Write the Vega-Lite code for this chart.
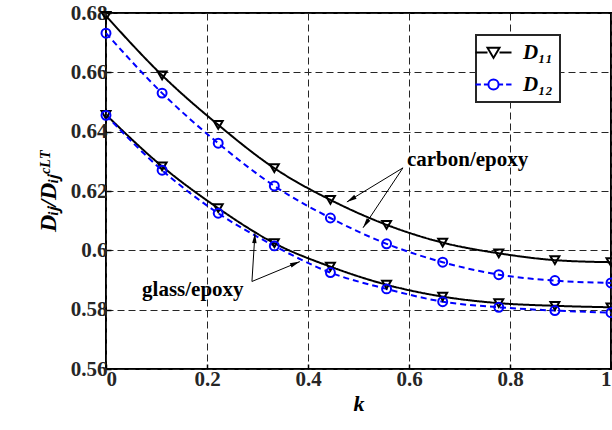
{
  "$schema": "https://vega.github.io/schema/vega-lite/v6.json",
  "autosize": {"type": "none"},
  "padding": {"left": 106, "top": 13, "right": 1, "bottom": 61},
  "width": 505,
  "height": 356,
  "background": "white",
  "config": {
    "view": {"stroke": "#000", "strokeWidth": 2},
    "axis": {
      "labelFont": "Times New Roman",
      "labelFontWeight": "bold",
      "labelFontSize": 21,
      "labelColor": "#262626",
      "titleFont": "Times New Roman",
      "titleFontWeight": "bold",
      "titleFontStyle": "italic",
      "titleColor": "#000",
      "grid": true,
      "gridDash": [7, 4],
      "gridColor": "#262626",
      "gridOpacity": 1,
      "gridWidth": 1,
      "domain": false,
      "ticks": true,
      "tickSize": -5,
      "tickColor": "#000",
      "tickWidth": 1.5,
      "labelPadding": 4
    },
    "axisX": {"titleFontSize": 22, "titlePadding": 4},
    "axisY": {"titleFontSize": 24, "titlePadding": 10},
    "legend": {
      "orient": "none",
      "legendX": 370,
      "legendY": 22,
      "strokeColor": "#262626",
      "strokeWidth": 2,
      "fillColor": "white",
      "padding": 7,
      "symbolSize": 144,
      "symbolStrokeWidth": 2,
      "labelFont": "Times New Roman",
      "labelFontSize": 21,
      "labelFontWeight": "bold",
      "labelFontStyle": "italic",
      "labelColor": "#000",
      "labelOffset": 19,
      "rowPadding": 10
    }
  },
  "datasets": {
    "curves": [
      {"k": 0, "v": 0.679, "series": "D₁₁", "mat": "carbon"},
      {"k": 0.1111, "v": 0.659, "series": "D₁₁", "mat": "carbon"},
      {"k": 0.2222, "v": 0.6423, "series": "D₁₁", "mat": "carbon"},
      {"k": 0.3333, "v": 0.6277, "series": "D₁₁", "mat": "carbon"},
      {"k": 0.4444, "v": 0.617, "series": "D₁₁", "mat": "carbon"},
      {"k": 0.5556, "v": 0.6086, "series": "D₁₁", "mat": "carbon"},
      {"k": 0.6667, "v": 0.6026, "series": "D₁₁", "mat": "carbon"},
      {"k": 0.7778, "v": 0.599, "series": "D₁₁", "mat": "carbon"},
      {"k": 0.8889, "v": 0.5967, "series": "D₁₁", "mat": "carbon"},
      {"k": 1, "v": 0.596, "series": "D₁₁", "mat": "carbon"},
      {"k": 0, "v": 0.6732, "series": "D₁₂", "mat": "carbon"},
      {"k": 0.1111, "v": 0.653, "series": "D₁₂", "mat": "carbon"},
      {"k": 0.2222, "v": 0.6361, "series": "D₁₂", "mat": "carbon"},
      {"k": 0.3333, "v": 0.6217, "series": "D₁₂", "mat": "carbon"},
      {"k": 0.4444, "v": 0.6109, "series": "D₁₂", "mat": "carbon"},
      {"k": 0.5556, "v": 0.6022, "series": "D₁₂", "mat": "carbon"},
      {"k": 0.6667, "v": 0.596, "series": "D₁₂", "mat": "carbon"},
      {"k": 0.7778, "v": 0.5918, "series": "D₁₂", "mat": "carbon"},
      {"k": 0.8889, "v": 0.5898, "series": "D₁₂", "mat": "carbon"},
      {"k": 1, "v": 0.589, "series": "D₁₂", "mat": "carbon"},
      {"k": 0, "v": 0.6457, "series": "D₁₁", "mat": "glass"},
      {"k": 0.1111, "v": 0.6283, "series": "D₁₁", "mat": "glass"},
      {"k": 0.2222, "v": 0.6142, "series": "D₁₁", "mat": "glass"},
      {"k": 0.3333, "v": 0.6024, "series": "D₁₁", "mat": "glass"},
      {"k": 0.4444, "v": 0.5945, "series": "D₁₁", "mat": "glass"},
      {"k": 0.5556, "v": 0.5884, "series": "D₁₁", "mat": "glass"},
      {"k": 0.6667, "v": 0.5844, "series": "D₁₁", "mat": "glass"},
      {"k": 0.7778, "v": 0.5822, "series": "D₁₁", "mat": "glass"},
      {"k": 0.8889, "v": 0.5813, "series": "D₁₁", "mat": "glass"},
      {"k": 1, "v": 0.5808, "series": "D₁₁", "mat": "glass"},
      {"k": 0, "v": 0.6455, "series": "D₁₂", "mat": "glass"},
      {"k": 0.1111, "v": 0.627, "series": "D₁₂", "mat": "glass"},
      {"k": 0.2222, "v": 0.6125, "series": "D₁₂", "mat": "glass"},
      {"k": 0.3333, "v": 0.6015, "series": "D₁₂", "mat": "glass"},
      {"k": 0.4444, "v": 0.5925, "series": "D₁₂", "mat": "glass"},
      {"k": 0.5556, "v": 0.587, "series": "D₁₂", "mat": "glass"},
      {"k": 0.6667, "v": 0.5827, "series": "D₁₂", "mat": "glass"},
      {"k": 0.7778, "v": 0.5808, "series": "D₁₂", "mat": "glass"},
      {"k": 0.8889, "v": 0.5797, "series": "D₁₂", "mat": "glass"},
      {"k": 1, "v": 0.579, "series": "D₁₂", "mat": "glass"}
    ],
    "arrows": [
      {"x0": 0.588, "y0": 0.6278, "x1": 0.477, "y1": 0.6163, "ang": 238.7},
      {"x0": 0.588, "y0": 0.6278, "x1": 0.509, "y1": 0.6076, "ang": 213.7},
      {"x0": 0.289, "y0": 0.5895, "x1": 0.295, "y1": 0.6058, "ang": 3.5},
      {"x0": 0.289, "y0": 0.5895, "x1": 0.384, "y1": 0.5962, "ang": 67.4}
    ],
    "labels": [
      {"x": 0.716, "y": 0.6305, "text": "carbon/epoxy"},
      {"x": 0.172, "y": 0.5867, "text": "glass/epoxy"}
    ]
  },
  "layer": [
    {
      "data": {"name": "curves"},
      "mark": {"type": "line", "interpolate": "monotone", "strokeWidth": 2},
      "encoding": {
        "x": {"field": "k", "type": "quantitative", "scale": {"domain": [0, 1], "nice": false},
          "axis": {"title": "k", "values": [0, 0.2, 0.4, 0.6, 0.8, 1], "format": "~g",
            "encode": {"labels": {"update": {"font": {"value": "Times New Roman"}, "fontSize": {"value": 21}, "fontWeight": {"value": "bold"}}}}}},
        "y": {"field": "v", "type": "quantitative", "scale": {"domain": [0.56, 0.68], "nice": false, "zero": false},
          "axis": {"title": "Dᵢⱼ/Dᵢⱼᶜᴸᵀ", "values": [0.56, 0.58, 0.6, 0.62, 0.64, 0.66, 0.68], "format": "~g",
            "encode": {"labels": {"update": {"font": {"value": "Times New Roman"}, "fontSize": {"value": 21}, "fontWeight": {"value": "bold"}}}}}},
        "color": {"field": "series", "type": "nominal", "scale": {"domain": ["D₁₁", "D₁₂"], "range": ["#000000", "#0000ff"]}, "legend": null},
        "strokeDash": {"field": "series", "type": "nominal", "scale": {"domain": ["D₁₁", "D₁₂"], "range": [[1, 0], [6, 4]]}, "legend": null},
        "detail": {"field": "mat"}
      }
    },
    {
      "data": {"name": "curves"},
      "mark": {"type": "point", "filled": false, "size": 80, "strokeWidth": 2, "opacity": 1},
      "encoding": {
        "x": {"field": "k", "type": "quantitative"},
        "y": {"field": "v", "type": "quantitative"},
        "color": {"field": "series", "type": "nominal", "scale": {"domain": ["D₁₁", "D₁₂"], "range": ["#000000", "#0000ff"]}, "legend": null},
        "shape": {"field": "series", "type": "nominal", "scale": {"domain": ["D₁₁", "D₁₂"], "range": ["triangle-down", "circle"]}, "legend": null}
      }
    },
    {
      "data": {"name": "curves"},
      "mark": {"type": "point", "filled": false, "size": 144, "strokeWidth": 2, "opacity": 0},
      "encoding": {
        "x": {"field": "k", "type": "quantitative"},
        "y": {"field": "v", "type": "quantitative"},
        "color": {"field": "series", "type": "nominal", "scale": {"domain": ["D₁₁", "D₁₂"], "range": ["#000000", "#0000ff"]}, "legend": {"title": null}},
        "shape": {"field": "series", "type": "nominal",
          "scale": {"domain": ["D₁₁", "D₁₂"], "range": [
            "M-3,0H-1M1,0H3M-1,-0.8H1L0,0.9Z",
            "M-3,0H-2.1M-1.6,0H-1M1,0H1.6M2.1,0H3M0.85,0A0.85,0.85 0 1,1 -0.85,0A0.85,0.85 0 1,1 0.85,0Z"
          ]},
          "legend": {"title": null}}
      }
    },
    {
      "data": {"name": "arrows"},
      "mark": {"type": "rule", "color": "#000", "strokeWidth": 1},
      "encoding": {
        "x": {"field": "x0", "type": "quantitative"},
        "y": {"field": "y0", "type": "quantitative"},
        "x2": {"field": "x1"},
        "y2": {"field": "y1"}
      }
    },
    {
      "data": {"name": "arrows"},
      "mark": {"type": "point", "shape": "M0,0L0.45,2L-0.45,2Z", "size": 100, "filled": true, "color": "#000", "opacity": 1},
      "encoding": {
        "x": {"field": "x1", "type": "quantitative"},
        "y": {"field": "y1", "type": "quantitative"},
        "angle": {"field": "ang", "type": "quantitative", "scale": null}
      }
    },
    {
      "data": {"name": "labels"},
      "mark": {"type": "text", "font": "Times New Roman", "fontWeight": "bold", "fontSize": 21, "color": "#000"},
      "encoding": {
        "x": {"field": "x", "type": "quantitative"},
        "y": {"field": "y", "type": "quantitative"},
        "text": {"field": "text"}
      }
    }
  ],
  "resolve": {"scale": {"color": "independent", "shape": "independent", "strokeDash": "independent"}}
}
